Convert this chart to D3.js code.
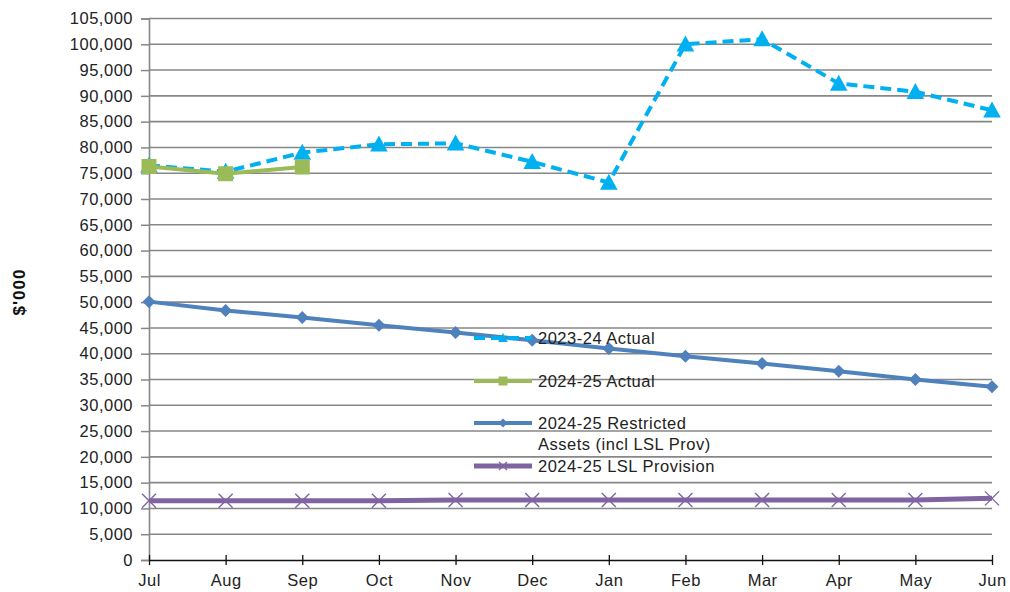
<!DOCTYPE html>
<html><head><meta charset="utf-8">
<script src="https://cdn.jsdelivr.net/npm/d3@7"></script>
<style>body{margin:0;background:#fff}svg{font-family:"Liberation Sans",Arial,sans-serif}</style>
</head><body>
<svg id="c" width="1010" height="592"></svg>
<script>
const months = ["Jul","Aug","Sep","Oct","Nov","Dec","Jan","Feb","Mar","Apr","May","Jun"];
const actual2324 = [76500,75300,79000,80600,80800,77200,73200,100000,101000,92400,90800,87200];
const actual2425 = [76300,74900,76200];
const restricted2425 = [50100,48400,47000,45500,44100,42600,41000,39500,38100,36600,35000,33600];
const lsl2425 = [11500,11500,11500,11500,11650,11650,11650,11650,11650,11650,11650,11950];
const yTicks = d3.range(0,105001,5000);
const legendLabels = [["2023-24 Actual"],["2024-25 Actual"],["2024-25 Restricted","Assets (incl LSL Prov)"],["2024-25 LSL Provision"]];

const svg = d3.select("#c");
const L=149,R=992,T=18.5,B=560;
const x = d3.scalePoint().domain(months).range([L,R]);
const y = d3.scaleLinear().domain([0,105000]).range([B,T]);
const FS = 16.5, LS = 0.5;

// gridlines
svg.append("g").selectAll("line").data(yTicks.filter(d=>d>0)).join("line")
 .attr("x1",L).attr("x2",R).attr("y1",d=>y(d)).attr("y2",d=>y(d))
 .attr("stroke","#878787").attr("stroke-width",1.6);

// y axis
const ya = svg.append("g").attr("transform",`translate(${L},0)`).call(d3.axisLeft(y).tickValues(yTicks).tickSize(8).tickPadding(8).tickFormat(d3.format(",")));
ya.select(".domain").attr("stroke","#878787").attr("stroke-width",1.6);
ya.selectAll(".tick line").attr("stroke","#878787").attr("stroke-width",1.5);
ya.selectAll("text").attr("font-size",FS).attr("letter-spacing",LS).attr("fill","#222").attr("font-family","Liberation Sans, Arial");

// x axis
const xa = svg.append("g").attr("transform",`translate(0,${B})`).call(d3.axisBottom(x).tickSize(5).tickPadding(9).tickSizeOuter(0));
xa.select(".domain").attr("stroke","#111").attr("stroke-width",1.3);
xa.selectAll(".tick line").attr("stroke","#111").attr("stroke-width",1.3).attr("y1",-5);
xa.selectAll("text").attr("font-size",FS).attr("letter-spacing",LS).attr("fill","#222").attr("font-family","Liberation Sans, Arial");

svg.append("text").attr("transform","translate(25,292) rotate(-90)").attr("text-anchor","middle")
 .attr("font-size",17).attr("letter-spacing",1).attr("font-weight","bold").attr("fill","#111").text("$'000");

const line = d3.line().x((d,i)=>x(months[i])).y(d=>y(d));
const colors = ["#00b0f0","#9bbb59","#4f81bd","#8064a2"];

function marker(g, type, cx, cy, s, color){
  if(type==="tri"){
    g.append("path").attr("d",`M${cx},${cy-s*0.55}L${cx+s*0.55},${cy+s*0.45}L${cx-s*0.55},${cy+s*0.45}Z`).attr("fill",color);
  } else if(type==="sq"){
    g.append("rect").attr("x",cx-s/2).attr("y",cy-s/2).attr("width",s).attr("height",s).attr("fill",color);
  } else if(type==="dia"){
    g.append("path").attr("d",`M${cx},${cy-s/2}L${cx+s/2},${cy}L${cx},${cy+s/2}L${cx-s/2},${cy}Z`).attr("fill",color);
  } else if(type==="x"){
    const h=s/2;
    g.append("path").attr("d",`M${cx-h},${cy-h}L${cx+h},${cy+h}M${cx-h},${cy+h}L${cx+h},${cy-h}`).attr("stroke",color).attr("stroke-width",1.4).attr("fill","none");
  }
}

const series = [
  {data:actual2324, color:colors[0], dash:"11,6", w:4, m:"tri", s:16},
  {data:actual2425, color:colors[1], dash:null, w:4, m:"sq", s:15},
  {data:restricted2425, color:colors[2], dash:null, w:4, m:"dia", s:13},
  {data:lsl2425, color:colors[3], dash:null, w:5, m:"x", s:14}
];
series.forEach(se=>{
  const g = svg.append("g");
  g.append("path").attr("d",line(se.data)).attr("fill","none").attr("stroke",se.color)
   .attr("stroke-width",se.w).attr("stroke-dasharray",se.dash).attr("stroke-linejoin","round");
  se.data.forEach((d,i)=>marker(g,se.m,x(months[i]),y(d),se.s,se.color));
});

// legend
const legY = [338,381,423,466];
const lg = svg.append("g");
series.forEach((se,i)=>{
  const yy = legY[i];
  lg.append("line").attr("x1",474).attr("x2",532).attr("y1",yy).attr("y2",yy).attr("stroke",se.color)
    .attr("stroke-width",se.w).attr("stroke-dasharray",se.dash);
  marker(lg,se.m,503,yy,se.m==="x"?8:9,se.color);
  legendLabels[i].forEach((t,j)=>{
    lg.append("text").attr("x",538).attr("y",yy+6+j*21).attr("font-size",FS).attr("letter-spacing",LS).attr("fill","#222").text(t);
  });
});
</script>
</body></html>
